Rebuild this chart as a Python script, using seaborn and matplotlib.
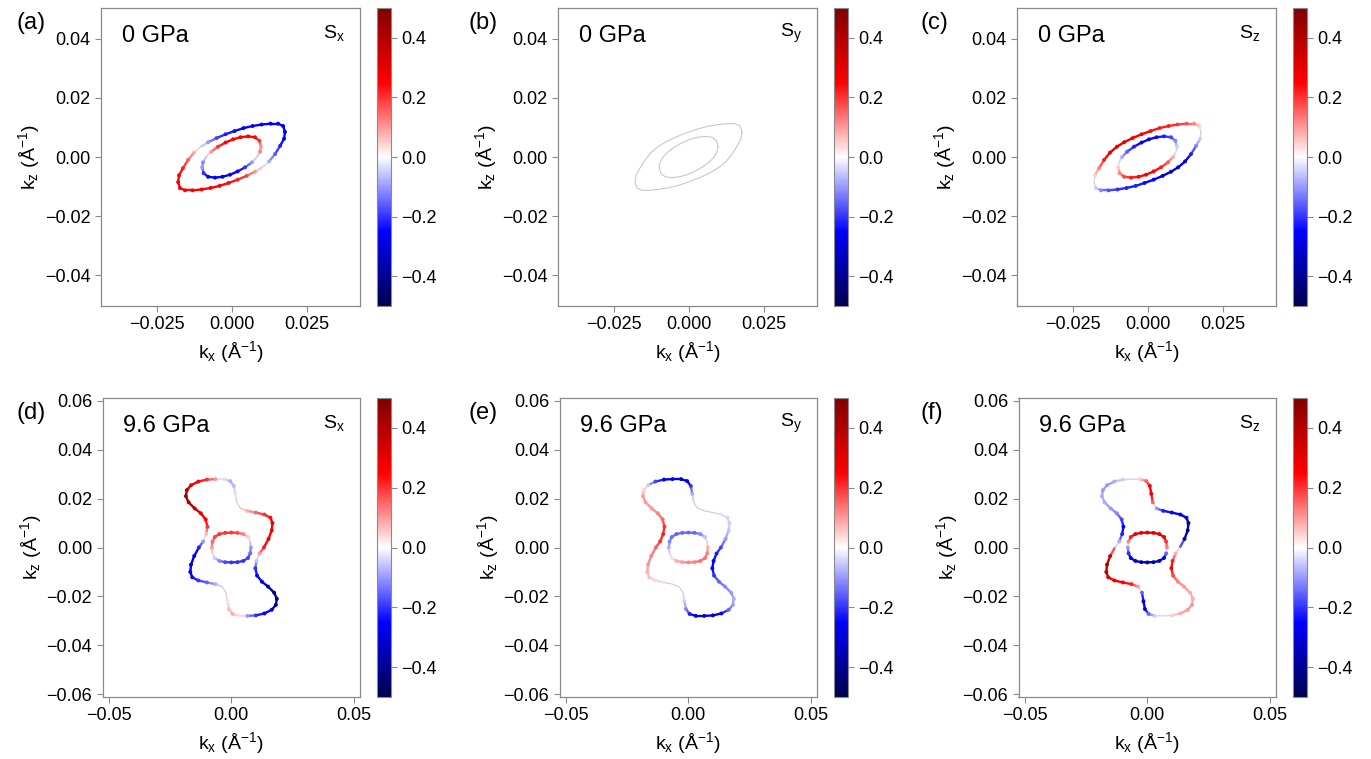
import numpy as np
import matplotlib
matplotlib.use("Agg")
import matplotlib.pyplot as plt
import seaborn as sns
from matplotlib.collections import LineCollection
from matplotlib.colors import Normalize

# ---- contour points (k in 1/Angstrom) ----
# 0 GPa, outer pocket
kx_0_outer = [0.0178, 0.0172, 0.0155, 0.0130, 0.0100, 0.0070, 0.0040, 0.0010, -0.0020, -0.0050, -0.0078,
              -0.0102, -0.0125, -0.0145, -0.0162, -0.0175, -0.0178, -0.0172, -0.0155, -0.0130, -0.0100,
              -0.0070, -0.0040, -0.0010, 0.0020, 0.0050, 0.0078, 0.0102, 0.0125, 0.0145, 0.0162, 0.0175]
kz_0_outer = [0.0085, 0.0105, 0.0113, 0.0113, 0.0110, 0.0105, 0.0098, 0.0088, 0.0077, 0.0064, 0.0050,
              0.0035, 0.0015, -0.0010, -0.0038, -0.0062, -0.0085, -0.0105, -0.0113, -0.0113, -0.0110,
              -0.0105, -0.0098, -0.0088, -0.0077, -0.0064, -0.0050, -0.0035, -0.0015, 0.0010, 0.0038, 0.0062]
# 0 GPa, inner pocket
kx_0_inner = [0.0098, 0.0093, 0.0078, 0.0055, 0.0030, 0.0005, -0.0020, -0.0045, -0.0068, -0.0085, -0.0095,
              -0.0098, -0.0093, -0.0078, -0.0055, -0.0030, -0.0005, 0.0020, 0.0045, 0.0068, 0.0085, 0.0095]
kz_0_inner = [0.0035, 0.0055, 0.0067, 0.0070, 0.0067, 0.0060, 0.0049, 0.0035, 0.0018, 0.0000, -0.0018,
              -0.0035, -0.0055, -0.0067, -0.0070, -0.0067, -0.0060, -0.0049, -0.0035, -0.0018, 0.0000, 0.0018]

# 9.6 GPa, outer pocket
kx_96_outer = [0.0133, 0.0152, 0.0165, 0.0168, 0.0160, 0.0135, 0.0100, 0.0065, 0.0038, 0.0022, 0.0016,
               0.0010, -0.0005, -0.0030, -0.0065, -0.0100, -0.0135, -0.0165, -0.0182, -0.0186, -0.0175,
               -0.0150, -0.0125, -0.0105, -0.0098, -0.0103, -0.0115,
               -0.0133, -0.0152, -0.0165, -0.0168, -0.0160, -0.0135, -0.0100, -0.0065, -0.0038, -0.0022,
               -0.0016, -0.0010, 0.0005, 0.0030, 0.0065, 0.0100, 0.0135, 0.0165, 0.0182, 0.0186,
               0.0175, 0.0150, 0.0125, 0.0105, 0.0098, 0.0103, 0.0115]
kz_96_outer = [0.0000, 0.0035, 0.0070, 0.0100, 0.0122, 0.0135, 0.0143, 0.0150, 0.0160, 0.0185, 0.0220,
               0.0252, 0.0272, 0.0280, 0.0280, 0.0278, 0.0270, 0.0255, 0.0235, 0.0210, 0.0185,
               0.0160, 0.0140, 0.0115, 0.0085, 0.0055, 0.0025,
               0.0000, -0.0035, -0.0070, -0.0100, -0.0122, -0.0135, -0.0143, -0.0150, -0.0160, -0.0185,
               -0.0220, -0.0252, -0.0272, -0.0280, -0.0280, -0.0278, -0.0270, -0.0255, -0.0235, -0.0210,
               -0.0185, -0.0160, -0.0140, -0.0115, -0.0085, -0.0055, -0.0025]
# 9.6 GPa, inner pocket
kx_96_inner = [0.0080, 0.0077, 0.0068, 0.0049, 0.0025, 0.0000, -0.0025, -0.0049, -0.0068, -0.0077,
               -0.0080, -0.0077, -0.0068, -0.0049, -0.0025, 0.0000, 0.0025, 0.0049, 0.0068, 0.0077]
kz_96_inner = [0.0000, 0.0024, 0.0043, 0.0055, 0.0060, 0.0061, 0.0060, 0.0055, 0.0043, 0.0024,
               0.0000, -0.0024, -0.0043, -0.0055, -0.0060, -0.0061, -0.0060, -0.0055, -0.0043, -0.0024]

# ---- spin texture values along the contours ----
sx_0_outer = [-0.25, -0.25, -0.25, -0.25, -0.25, -0.25, -0.25, -0.24, -0.22, -0.18, -0.10, -0.02, 0.08, 0.16, 0.22, 0.25,
              0.25, 0.25, 0.25, 0.25, 0.25, 0.25, 0.25, 0.24, 0.22, 0.18, 0.10, 0.02, -0.08, -0.16, -0.22, -0.25]
sx_0_inner = [0.10, 0.20, 0.25, 0.25, 0.25, 0.25, 0.25, 0.20, 0.10, 0.00, -0.12,
              -0.10, -0.20, -0.25, -0.25, -0.25, -0.25, -0.25, -0.20, -0.10, 0.00, 0.12]
sy_0_outer = [0.0, 0.0, 0.0, 0.0, 0.0, 0.0, 0.0, 0.0, 0.0, 0.0, 0.0, 0.0, 0.0, 0.0, 0.0, 0.0,
              0.0, 0.0, 0.0, 0.0, 0.0, 0.0, 0.0, 0.0, 0.0, 0.0, 0.0, 0.0, 0.0, 0.0, 0.0, 0.0]
sy_0_inner = [0.0, 0.0, 0.0, 0.0, 0.0, 0.0, 0.0, 0.0, 0.0, 0.0, 0.0,
              0.0, 0.0, 0.0, 0.0, 0.0, 0.0, 0.0, 0.0, 0.0, 0.0, 0.0]
sz_0_outer = [0.00, 0.05, 0.12, 0.17, 0.20, 0.22, 0.22, 0.24, 0.26, 0.28, 0.30, 0.30, 0.28, 0.22, 0.12, 0.05,
              0.00, -0.05, -0.12, -0.17, -0.20, -0.22, -0.22, -0.24, -0.26, -0.28, -0.30, -0.30, -0.28, -0.22, -0.12, -0.05]
sz_0_inner = [-0.05, -0.12, -0.18, -0.22, -0.24, -0.25, -0.25, -0.22, -0.16, -0.08, 0.00,
              0.05, 0.12, 0.18, 0.22, 0.24, 0.25, 0.25, 0.22, 0.16, 0.08, 0.00]

sx_96_outer = [0.22, 0.27, 0.28, 0.27, 0.24, 0.20, 0.15, 0.08, 0.02, -0.01, -0.03, -0.07, -0.08, -0.03,
               0.10, 0.20, 0.25, 0.30, 0.38, 0.42, 0.40, 0.35, 0.30, 0.25, 0.20, 0.06, -0.10,
               -0.22, -0.27, -0.28, -0.27, -0.24, -0.20, -0.15, -0.08, -0.02, 0.01, 0.03, 0.07, 0.08, 0.03,
               -0.10, -0.20, -0.25, -0.30, -0.38, -0.42, -0.40, -0.35, -0.30, -0.25, -0.20, -0.06, 0.10]
sx_96_inner = [-0.10, -0.02, 0.05, 0.12, 0.18, 0.20, 0.20, 0.20, 0.18, 0.15,
               0.10, 0.02, -0.05, -0.12, -0.18, -0.20, -0.20, -0.20, -0.18, -0.15]
sy_96_outer = [-0.18, -0.10, -0.06, -0.05, -0.04, -0.03, -0.02, -0.01, 0.00, -0.02, -0.08, -0.20, -0.28, -0.30,
               -0.28, -0.25, -0.18, -0.05, 0.05, 0.10, 0.10, 0.10, 0.12, 0.15, 0.20, 0.22, 0.20,
               0.15, 0.12, 0.10, 0.08, 0.06, 0.04, 0.03, 0.02, 0.00, -0.02, -0.05, -0.12, -0.22, -0.28,
               -0.30, -0.30, -0.25, -0.15, -0.10, -0.08, -0.10, -0.12, -0.15, -0.20, -0.25, -0.25, -0.22]
sy_96_inner = [0.08, 0.00, -0.06, -0.12, -0.15, -0.15, -0.15, -0.15, -0.14, -0.12,
               -0.08, -0.02, 0.03, 0.08, 0.10, 0.12, 0.12, 0.14, 0.14, 0.12]
sz_96_outer = [0.00, -0.35, -0.40, -0.38, -0.30, -0.28, -0.25, -0.22, -0.10, 0.15, 0.28, 0.25, 0.15, 0.05,
               -0.02, -0.05, -0.08, -0.10, -0.10, -0.08, -0.08, -0.10, -0.12, -0.18, -0.25, -0.22, -0.08,
               0.00, 0.35, 0.40, 0.38, 0.30, 0.28, 0.25, 0.22, 0.10, -0.15, -0.28, -0.25, -0.15, -0.05,
               0.02, 0.05, 0.08, 0.10, 0.10, 0.08, 0.08, 0.10, 0.12, 0.18, 0.25, 0.22, 0.08]
sz_96_inner = [0.12, 0.20, 0.28, 0.30, 0.30, 0.30, 0.30, 0.28, 0.22, 0.12,
               -0.10, -0.20, -0.28, -0.32, -0.35, -0.35, -0.35, -0.32, -0.25, -0.15]

panel_letters = ["(a)", "(b)", "(c)", "(d)", "(e)", "(f)"]
pressures = ["0 GPa", "9.6 GPa"]
components = ["x", "y", "z"]

sns.set_style("white")
plt.rcParams["font.family"] = ["Liberation Sans", "DejaVu Sans"]
plt.rcParams["mathtext.default"] = "regular"
plt.rcParams["text.color"] = "black"
plt.rcParams["axes.labelcolor"] = "black"
plt.rcParams["xtick.labelcolor"] = "black"
plt.rcParams["ytick.labelcolor"] = "black"

cmap = plt.get_cmap("seismic")
norm = Normalize(vmin=-0.5, vmax=0.5)


def draw_pocket(ax, kx, kz, spin):
    """Grey Fermi contour with spin-coloured dots on top."""
    x = np.array(kx + kx[:1])
    z = np.array(kz + kz[:1])
    s = np.array(spin + spin[:1])
    ax.plot(x, z, color="#c8c8c8", lw=0.8, zorder=1)
    segs = np.stack([np.column_stack([x[:-1], z[:-1]]), np.column_stack([x[1:], z[1:]])], axis=1)
    mid = 0.5 * (s[:-1] + s[1:])
    cols = cmap(norm(mid))
    cols[:, 3] = np.clip(np.abs(mid) / 0.08, 0, 1)
    ax.add_collection(LineCollection(segs, colors=cols, linewidths=1.7, zorder=2))
    keep = np.abs(np.array(spin)) > 0.02
    if keep.any():
        sns.scatterplot(x=np.array(kx)[keep], y=np.array(kz)[keep], hue=np.array(spin)[keep],
                        palette="seismic", hue_norm=(-0.5, 0.5), s=8, linewidth=0,
                        legend=False, ax=ax, zorder=3)


fig = plt.figure(figsize=(13.71, 7.59), dpi=100)
W, H = 1371.0, 759.0

rows = [
    dict(top=8, height=298, left=101, width=259, xlim=(-0.0435, 0.0428), ylim=(-0.0505, 0.0505),
         xticks=[-0.025, 0.0, 0.025], yticks=[-0.04, -0.02, 0.0, 0.02, 0.04],
         pockets=[(kx_0_outer, kz_0_outer), (kx_0_inner, kz_0_inner)],
         spins=[(sx_0_outer, sx_0_inner), (sy_0_outer, sy_0_inner), (sz_0_outer, sz_0_inner)]),
    dict(top=398, height=299, left=102.5, width=257, xlim=(-0.0527, 0.0524), ylim=(-0.0612, 0.0612),
         xticks=[-0.05, 0.0, 0.05], yticks=[-0.06, -0.04, -0.02, 0.0, 0.02, 0.04, 0.06],
         pockets=[(kx_96_outer, kz_96_outer), (kx_96_inner, kz_96_inner)],
         spins=[(sx_96_outer, sx_96_inner), (sy_96_outer, sy_96_inner), (sz_96_outer, sz_96_inner)]),
]
col_offsets = [0, 457, 916]

for r, row in enumerate(rows):
    for c in range(3):
        left = row["left"] + col_offsets[c]
        ax = fig.add_axes([left / W, 1 - (row["top"] + row["height"]) / H, row["width"] / W, row["height"] / H])
        cax = fig.add_axes([(377 + col_offsets[c]) / W, 1 - (row["top"] + row["height"]) / H, 14 / W,
                            row["height"] / H])
        for (kx, kz), spin in zip(row["pockets"], row["spins"][c]):
            draw_pocket(ax, kx, kz, spin)
        ax.set_xlim(row["xlim"])
        ax.set_ylim(row["ylim"])
        ax.set_xticks(row["xticks"])
        ax.set_yticks(row["yticks"])
        ax.set_xlabel(r"k$_\mathregular{x}$ (Å$^\mathregular{-1}$)", fontsize=14, labelpad=4)
        ax.set_ylabel(r"k$_\mathregular{z}$ (Å$^\mathregular{-1}$)", fontsize=14, labelpad=2)
        ax.tick_params(axis="both", labelsize=13, length=4, width=0.8, color="#8a8a8a", direction="out",
                       bottom=True, left=True)
        for sp in ax.spines.values():
            sp.set_color("#8a8a8a")
            sp.set_linewidth(0.9)
        ax.text(0.08, 0.905, pressures[r], transform=ax.transAxes, fontsize=17, va="center", ha="left")
        ax.text(0.90, 0.915, r"S$_\mathregular{%s}$" % components[c], transform=ax.transAxes, fontsize=14,
                va="center", ha="center")

        cb = fig.colorbar(plt.cm.ScalarMappable(norm=norm, cmap=cmap), cax=cax,
                          ticks=[-0.4, -0.2, 0.0, 0.2, 0.4])
        cb.ax.tick_params(labelsize=13, length=4, width=0.8, color="#8a8a8a")
        cb.outline.set_edgecolor("#8a8a8a")
        cb.outline.set_linewidth(0.8)

        fig.text((17 + 452 * c) / W, 1 - (row["top"] + 4) / H, panel_letters[3 * r + c], fontsize=17,
                 ha="left", va="top")

fig.savefig("out.png", dpi=100)
